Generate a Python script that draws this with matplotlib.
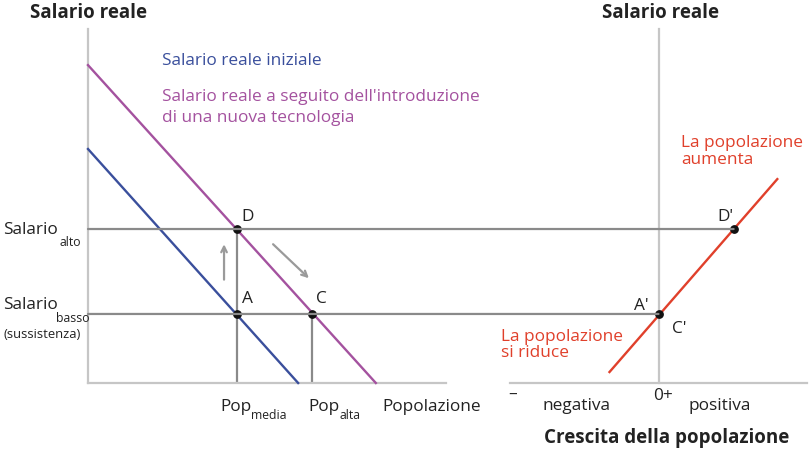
import matplotlib
matplotlib.use("Agg")
import matplotlib.pyplot as plt
from matplotlib.patches import ConnectionPatch

plt.rcParams['font.family'] = ['Open Sans', 'DejaVu Sans']

# ---- data (model units) ----
# left panel: population vs real wage
blue_pop = [0.0, 5.87]
blue_wage = [6.61, 0.0]
purple_pop = [0.0, 8.04]
purple_wage = [8.98, 0.0]
w_low = 1.95
w_high = 4.35
pop_media = 4.16
pop_alta = 6.26
# right panel: population growth vs real wage
red_growth = [-1.65, 4.0]
red_wage = [0.31, 5.76]
growth_A = 0.0
growth_D = 2.53

BLUE = '#3a4f9c'
PURPLE = '#a4529f'
RED = '#e0402b'
GUIDE = '#8a8a8a'
AXIS = '#c6c6c6'
ARROW = '#9a9a9a'

W, H = 810, 452
fig = plt.figure(figsize=(W / 100, H / 100), dpi=100)


def fp(x, y):
    return (x / W, 1 - y / H)


ax1 = fig.add_axes([88 / W, (H - 384) / H, (446 - 88) / W, (384 - 30) / H])
ax2 = fig.add_axes([510 / W, (H - 384) / H, (807 - 510) / W, (384 - 30) / H])
ax1.set_xlim(0, 10)
ax1.set_ylim(0, 10)
ax2.set_xlim(-5, 5)
ax2.set_ylim(0, 10)

for ax in (ax1, ax2):
    for s in ('top', 'right'):
        ax.spines[s].set_visible(False)
    for s in ('left', 'bottom'):
        ax.spines[s].set_color(AXIS)
        ax.spines[s].set_linewidth(1.6)
    ax.set_xticks([])
    ax.set_yticks([])
    ax.patch.set_alpha(0)
ax2.spines['left'].set_position(('data', 0))

# guide lines spanning both panels
for w, g in ((w_high, growth_D), (w_low, growth_A)):
    con = ConnectionPatch(xyA=(0, w), coordsA=ax1.transData,
                          xyB=(g, w), coordsB=ax2.transData,
                          color=GUIDE, lw=1.6, zorder=1)
    fig.add_artist(con)

# vertical guides
ax1.plot([pop_media, pop_media], [0, w_high], color=GUIDE, lw=1.6, zorder=1)
ax1.plot([pop_alta, pop_alta], [0, w_low], color=GUIDE, lw=1.6, zorder=1)

# curves
ax1.plot(blue_pop, blue_wage, color=BLUE, lw=1.7, zorder=3, clip_on=False)
ax1.plot(purple_pop, purple_wage, color=PURPLE, lw=1.7, zorder=3, clip_on=False)
ax2.plot(red_growth, red_wage, color=RED, lw=1.7, zorder=3, clip_on=False)

# points
ax1.scatter([pop_media, pop_media, pop_alta], [w_high, w_low, w_low],
            s=28, color='#111111', zorder=5, clip_on=False)
ax2.scatter([growth_A, growth_D], [w_low, w_high], s=28, color='#111111',
            zorder=5, clip_on=False)

# arrows
ax1.annotate('', xy=(3.80, 3.92), xytext=(3.80, 2.92),
             arrowprops=dict(arrowstyle='->', color=ARROW, lw=1.6,
                             mutation_scale=10, shrinkA=0, shrinkB=0))
ax1.annotate('', xy=(6.17, 2.96), xytext=(5.17, 3.92),
             arrowprops=dict(arrowstyle='->', color=ARROW, lw=1.6,
                             mutation_scale=10, shrinkA=0, shrinkB=0))

FS = 12.4
SUB = 8.8
TF = 13.5
TXT = '#222222'

# titles
fig.text(*fp(30, 13), 'Salario reale', fontsize=TF, fontweight='bold',
         color=TXT, ha='left', va='center')
fig.text(*fp(661, 13), 'Salario reale', fontsize=TF, fontweight='bold',
         color=TXT, ha='center', va='center')
fig.text(*fp(544, 438), 'Crescita della popolazione', fontsize=TF,
         fontweight='bold', color=TXT, ha='left', va='center')

# legends-like labels
fig.text(*fp(162, 61), 'Salario reale iniziale', fontsize=FS, color=BLUE,
         ha='left', va='center')
fig.text(*fp(162, 97), "Salario reale a seguito dell'introduzione",
         fontsize=FS, color=PURPLE, ha='left', va='center')
fig.text(*fp(162, 118), 'di una nuova tecnologia', fontsize=FS,
         color=PURPLE, ha='left', va='center')

# wage labels
fig.text(*fp(3, 230), 'Salario', fontsize=FS, color=TXT, ha='left', va='center')
fig.text(*fp(60, 243), 'alto', fontsize=SUB, color=TXT, ha='left', va='center')
fig.text(*fp(3, 305), 'Salario', fontsize=FS, color=TXT, ha='left', va='center')
fig.text(*fp(56, 319), 'basso', fontsize=SUB, color=TXT, ha='left', va='center')
fig.text(*fp(3, 334), '(sussistenza)', fontsize=9.4, color=TXT,
         ha='left', va='center')

# population labels
fig.text(*fp(220, 407), 'Pop', fontsize=FS, color=TXT, ha='left', va='center')
fig.text(*fp(251, 416), 'media', fontsize=SUB, color=TXT, ha='left', va='center')
fig.text(*fp(308, 407), 'Pop', fontsize=FS, color=TXT, ha='left', va='center')
fig.text(*fp(339, 416), 'alta', fontsize=SUB, color=TXT, ha='left', va='center')
fig.text(*fp(382, 407), 'Popolazione', fontsize=FS, color=TXT, ha='left',
         va='center')

# growth labels
fig.text(*fp(513, 395), '–', fontsize=FS, color=TXT, ha='center', va='center')
fig.text(*fp(543, 406), 'negativa', fontsize=FS, color=TXT, ha='left',
         va='center')
fig.text(*fp(663, 396), '0+', fontsize=FS, color=TXT, ha='center', va='center')
fig.text(*fp(688, 406), 'positiva', fontsize=FS, color=TXT, ha='left',
         va='center')

# point labels
fig.text(*fp(241, 217), 'D', fontsize=FS, color=TXT, ha='left', va='center')
fig.text(*fp(242, 299), 'A', fontsize=FS, color=TXT, ha='left', va='center')
fig.text(*fp(316, 299), 'C', fontsize=FS, color=TXT, ha='left', va='center')
fig.text(*fp(634, 306), "A'", fontsize=FS, color=TXT, ha='left', va='center')
fig.text(*fp(672, 329), "C'", fontsize=FS, color=TXT, ha='left', va='center')
fig.text(*fp(717, 217), "D'", fontsize=FS, color=TXT, ha='left', va='center')

# red annotations
fig.text(*fp(681, 143), 'La popolazione', fontsize=FS, color=RED, ha='left',
         va='center')
fig.text(*fp(681, 160), 'aumenta', fontsize=FS, color=RED, ha='left',
         va='center')
fig.text(*fp(501, 337), 'La popolazione', fontsize=FS, color=RED, ha='left',
         va='center')
fig.text(*fp(501, 353), 'si riduce', fontsize=FS, color=RED, ha='left',
         va='center')

fig.savefig('out.png', dpi=100)
